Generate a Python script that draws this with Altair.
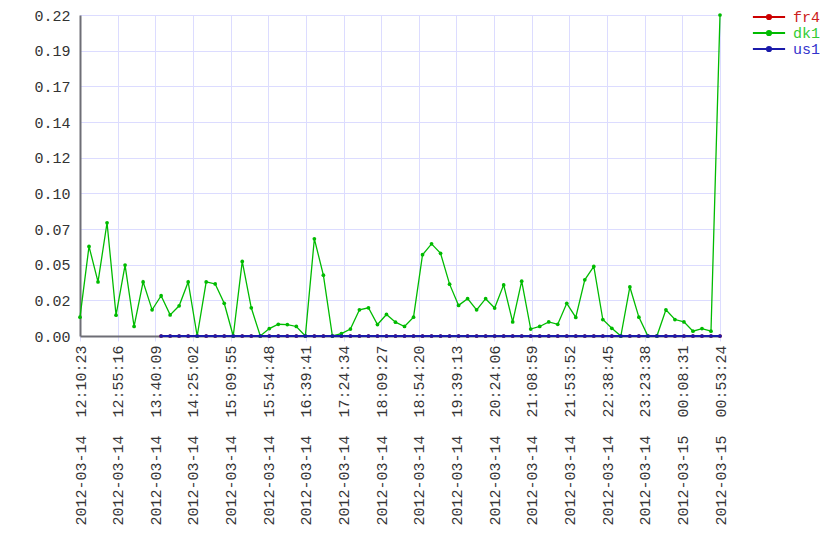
import altair as alt
import pandas as pd

series_names = ["fr4", "dk1", "us1"]
series_colors = ["#cc0000", "#00bb00", "#1a1aaa"]
legend_line_colors = ["#e07070", "#70d870", "#7a7ae0"]
legend_text_colors = ["#cc2020", "#33cc33", "#3333cc"]

time_labels = [
    "2012-03-14  12:10:23", "2012-03-14  12:55:16", "2012-03-14  13:40:09",
    "2012-03-14  14:25:02", "2012-03-14  15:09:55", "2012-03-14  15:54:48",
    "2012-03-14  16:39:41", "2012-03-14  17:24:34", "2012-03-14  18:09:27",
    "2012-03-14  18:54:20", "2012-03-14  19:39:13", "2012-03-14  20:24:06",
    "2012-03-14  21:08:59", "2012-03-14  21:53:52", "2012-03-14  22:38:45",
    "2012-03-14  23:23:38", "2012-03-15  00:08:31", "2012-03-15  00:53:24",
]

dk1 = [0.0127, 0.0603, 0.0364, 0.0762, 0.0140, 0.0477, 0.0064, 0.0364, 0.0176, 0.0271,
       0.0142, 0.0203, 0.0364, 0.0, 0.0364, 0.0350, 0.0220, 0.0, 0.0502, 0.0190,
       0.0, 0.0050, 0.0079, 0.0077, 0.0064, 0.0, 0.0654, 0.0409, 0.0, 0.0016,
       0.0047, 0.0176, 0.0190, 0.0077, 0.0145, 0.0093, 0.0064, 0.0127, 0.0547, 0.0620,
       0.0556, 0.0349, 0.0206, 0.0251, 0.0176, 0.0251, 0.0188, 0.0344, 0.0095, 0.0369,
       0.0047, 0.0064, 0.0095, 0.0079, 0.0220, 0.0125, 0.0378, 0.0468, 0.0111, 0.0052,
       0.0, 0.0330, 0.0127, 0.0, 0.0, 0.0176, 0.0111, 0.0095, 0.0032, 0.0050,
       0.0032, 0.216]
us1 = [None] * 9 + [0.0] * 63
fr4 = [None] * 9 + [0.0] * 63

y_ticks = [0.0, 0.024, 0.048, 0.072, 0.096, 0.12, 0.144, 0.168, 0.192, 0.216]

n_points = len(dk1)
n_labels = len(time_labels)
x_ticks = [k * (n_points - 1) / (n_labels - 1) for k in range(n_labels)]

rows = []
for name, vals in zip(series_names, [fr4, dk1, us1]):
    for i, v in enumerate(vals):
        if v is not None:
            rows.append({"idx": i, "value": v, "series": name})
df = pd.DataFrame(rows)

lbls = ",".join("'" + l.replace("  ", "\u00a0\u00a0") + "'" for l in time_labels)
label_expr = f"[{lbls}][round(datum.value*{n_labels - 1}/{n_points - 1})]"


def color_map_expr(colors):
    pairs = ",".join(f"'{n}':'{c}'" for n, c in zip(series_names, colors))
    return "{" + pairs + "}[datum.value]"


FONT = "Liberation Mono"

color_scale = alt.Scale(domain=series_names, range=series_colors)
legend_path = "M-2.3,0L2.3,0M-0.3,0A0.3,0.3 0 1,0 0.3,0A0.3,0.3 0 1,0 -0.3,0Z"
legend = alt.Legend(
    title=None, orient="none", legendX=681, legendY=-6, padding=0,
    symbolType=legend_path, symbolSize=196, symbolStrokeWidth=2,
    symbolFillColor=alt.ExprRef(expr=color_map_expr(series_colors)),
    symbolStrokeColor=alt.ExprRef(expr=color_map_expr(legend_line_colors)),
    symbolOpacity=1,
    labelColor=alt.ExprRef(expr=color_map_expr(legend_text_colors)),
    labelFont=FONT, labelFontSize=15, labelOffset=16, rowPadding=0,
)

x_enc = alt.X("idx:Q", scale=alt.Scale(domain=[0, n_points - 1], nice=False, zero=False),
              axis=alt.Axis(title=None, values=x_ticks, labelExpr=label_expr,
                            labelAngle=270, labelAlign="right", labelBaseline="middle",
                            labelPadding=4, tickSize=5, tickColor="#dcdcff",
                            labelLimit=400,
                            labelFlush=False, labelOverlap=False, labelBound=False))
y_enc = alt.Y("value:Q", scale=alt.Scale(domain=[0, 0.216], nice=False),
              axis=alt.Axis(title=None, values=y_ticks, format=".2f",
                            labelPadding=10, ticks=False,
                            labelFlush=False, labelOverlap=False))

widths = {"fr4": 1.3, "dk1": 1.3, "us1": 2}
layers = []
for name in series_names:
    layers.append(
        alt.Chart(df)
        .transform_filter(alt.datum.series == name)
        .mark_line(strokeWidth=widths[name],
                   point=alt.OverlayMarkDef(filled=True, size=14, opacity=1))
        .encode(x=x_enc, y=y_enc,
                color=alt.Color("series:N", scale=color_scale, legend=legend))
    )

chart = (
    alt.layer(*layers)
    .properties(width=640, height=321, background="white",
                autosize=alt.AutoSizeParams(type="none"),
                padding={"left": 72, "top": 7, "right": 112, "bottom": 200})
    .configure_view(stroke=None)
    .configure_axis(gridColor="#dcdcff", gridWidth=1, domainColor="#6e6e76",
                    domainWidth=2, labelFont=FONT, labelFontSize=15,
                    labelColor="#333333")
)

chart.save("out.html", embed_options={"renderer": "svg", "actions": False})
